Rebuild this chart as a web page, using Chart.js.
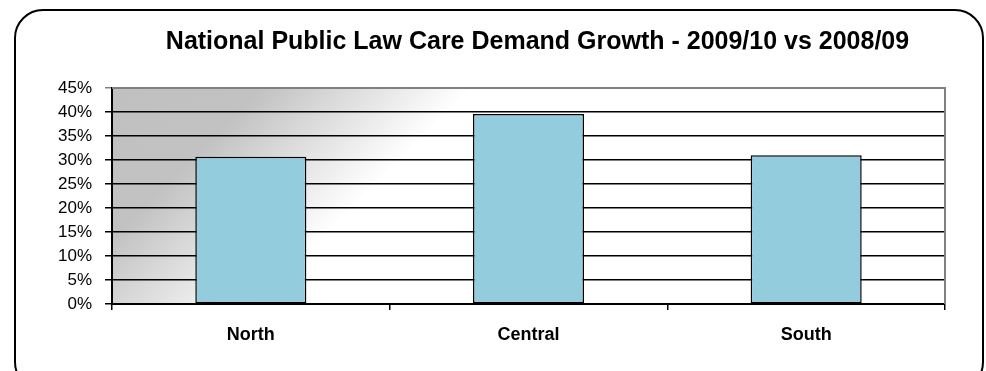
<!DOCTYPE html>
<html>
<head>
<meta charset="utf-8">
<script src="https://cdn.jsdelivr.net/npm/chart.js@4/dist/chart.umd.min.js"></script>
<style>
  html, body { margin: 0; padding: 0; background: #ffffff; }
  #wrap { width: 986px; height: 371px; }
</style>
</head>
<body>
<div id="wrap"><canvas id="c" width="986" height="371"></canvas></div>
<script>
// Regions and their demand growth (percent), 2009/10 vs 2008/09
const regions = ['North', 'Central', 'South'];
const growthPct = [30.7, 39.6, 31.0];

// Value axis range (percent)
const axisMin = 0;
const axisMax = 45;
const axisStep = 5;

const titleText = 'National Public Law Care Demand Growth - 2009/10 vs 2008/09';
const FONT = '"Liberation Sans", Arial, Helvetica, sans-serif';

// Rounded outer frame plus the shaded plot background
const framePlugin = {
  id: 'frameAndBackdrop',
  afterLayout(chart) {
    // nudge the title block a little to the right of the plot centre
    const t = chart.titleBlock;
    if (t) { t.left += 9; t.right += 9; }
  },
  beforeDraw(chart) {
    const ctx = chart.ctx;
    const a = chart.chartArea;
    ctx.save();
    ctx.fillStyle = '#ffffff';
    ctx.fillRect(0, 0, chart.width, chart.height);

    // outer rounded border
    ctx.beginPath();
    ctx.roundRect(15, 10, 968, 380, 28);
    ctx.lineWidth = 2;
    ctx.strokeStyle = '#000000';
    ctx.stroke();

    // plot area: grey in the top-left corner fading to white
    const d = 180;
    const g = ctx.createLinearGradient(a.left, a.top, a.left + d, a.top + d);
    g.addColorStop(0, '#c0c0c0');
    g.addColorStop(0.42, '#c2c2c2');
    g.addColorStop(1, '#ffffff');
    ctx.fillStyle = g;
    ctx.fillRect(a.left, a.top, a.right - a.left, a.bottom - a.top);
    ctx.restore();
  },
  afterDraw(chart) {
    const ctx = chart.ctx;
    const a = chart.chartArea;
    ctx.save();
    ctx.strokeStyle = '#808080';
    ctx.lineWidth = 2;
    ctx.beginPath();
    ctx.moveTo(a.left, a.top);
    ctx.lineTo(a.right, a.top);
    ctx.lineTo(a.right, a.bottom);
    ctx.stroke();
    ctx.restore();
  }
};

new Chart(document.getElementById('c'), {
  type: 'bar',
  data: {
    labels: regions,
    datasets: [{
      data: growthPct,
      backgroundColor: '#93cddd',
      borderColor: '#000000',
      borderWidth: 1.5,
      borderSkipped: false,
      barPercentage: 0.4,
      categoryPercentage: 1.0
    }]
  },
  options: {
    responsive: false,
    animation: false,
    devicePixelRatio: 1,
    layout: { padding: { left: 0, right: 41, top: 0, bottom: 0 } },
    plugins: {
      legend: { display: false },
      tooltip: { enabled: false },
      title: {
        display: true,
        fullSize: false,
        text: titleText,
        color: '#000000',
        font: { family: FONT, size: 25, weight: 'bold', lineHeight: 1.2 },
        padding: { top: 27.5, bottom: 30.5 }
      }
    },
    scales: {
      x: {
        afterFit(scale) { scale.height = 67; },
        border: { display: true, color: '#000000', width: 2 },
        grid: {
          offset: true,
          drawOnChartArea: false,
          drawTicks: true,
          tickLength: 6,
          color: '#000000',
          lineWidth: 1.5
        },
        ticks: {
          color: '#000000',
          padding: 14,
          font: { family: FONT, size: 18, weight: 'bold' }
        }
      },
      y: {
        min: axisMin,
        max: axisMax,
        afterFit(scale) { scale.width = 112; },
        border: { display: true, color: '#000000', width: 2 },
        grid: {
          drawTicks: true,
          tickLength: 7,
          lineWidth: 1.5,
          color: (c) => (c.tick && c.tick.value === axisMax) ? '#808080' : '#000000'
        },
        ticks: {
          stepSize: axisStep,
          color: '#000000',
          padding: 13,
          font: { family: FONT, size: 17 },
          callback: (v) => v + '%'
        }
      }
    }
  },
  plugins: [framePlugin]
});
</script>
</body>
</html>
